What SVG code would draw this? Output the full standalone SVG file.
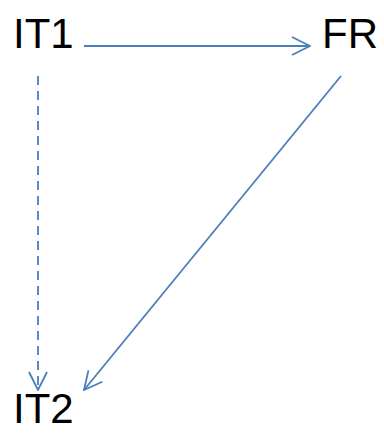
<svg xmlns="http://www.w3.org/2000/svg" width="384" height="433" viewBox="0 0 384 433">
<style>
.lbl{font-family:"Liberation Sans","Open Sans",sans-serif;font-size:42px;fill:#000}
.c{stroke:#4a7ebb;stroke-width:1.8;fill:none}
</style>
<defs>
<marker id="a" viewBox="0 0 20 20" refX="19" refY="10" markerWidth="20" markerHeight="20" markerUnits="userSpaceOnUse" orient="auto">
<path d="M1,1 L19,10 L1,19" fill="none" stroke="#4a7ebb" stroke-width="1.8"/>
</marker>
</defs>
<rect width="384" height="433" fill="#fff"/>
<g id="IT1"><text class="lbl" x="13" y="48">IT1</text></g>
<g id="FR"><text class="lbl" x="378" y="48" text-anchor="end">FR</text></g>
<g id="IT2"><text class="lbl" x="13" y="423">IT2</text></g>
<g id="connectors">
<line class="c" x1="84" y1="46" x2="310" y2="46" marker-end="url(#a)"/>
<line class="c" x1="38" y1="76" x2="38" y2="390" stroke-dasharray="9,6" marker-end="url(#a)"/>
<line class="c" x1="341" y1="76" x2="84" y2="390" marker-end="url(#a)"/>
</g>
</svg>
